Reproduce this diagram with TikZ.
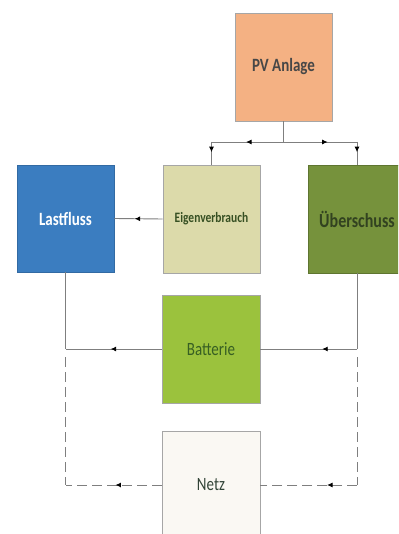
\documentclass[tikz,border=0pt]{standalone}
\usepackage{fontspec}
\usepackage{graphicx}
\setmainfont{Carlito}
\usetikzlibrary{arrows.meta,decorations.markings}
\definecolor{pvfill}{HTML}{F4B183}
\definecolor{eigfill}{HTML}{DCDAAA}
\definecolor{uebfill}{HTML}{76923C}
\definecolor{lastfill}{HTML}{3B7DC0}
\definecolor{battfill}{HTML}{9BC23D}
\definecolor{netzfill}{HTML}{FAF8F3}
\definecolor{linegray}{HTML}{7F7F7F}
\definecolor{bordgray}{HTML}{A6A6A6}
\newcommand{\tallText}[1]{\scalebox{1}[1.25]{#1}}
\begin{document}
\begin{tikzpicture}[x=1pt,y=-1pt,
  box/.style={draw=bordgray,line width=0.8pt,minimum width=97pt,minimum height=108pt,inner sep=0pt,font=\fontsize{15}{18}\selectfont},
  conn/.style={draw=linegray,line width=0.9pt},
  dconn/.style={conn,dash pattern=on 10pt off 5pt},
  midarr/.style={postaction={decorate,decoration={markings,mark=at position #1 with {\arrow[black]{Latex[length=5.5pt,width=5pt]}}}}},
  midarr/.default=0.5]
\useasboundingbox (0,0) rectangle (398,534);
\clip (0,0) rectangle (398,534);
\fill[white] (0,0) rectangle (398,534);
% boxes
\node[box,fill=pvfill,text=black!72,font=\bfseries\fontsize{15}{18}\selectfont] (pv) at (283.5,67) {\tallText{PV Anlage}};
\node[box,fill=eigfill,text={rgb,255:red,55;green,80;blue,35},font=\bfseries\fontsize{11.5}{14}\selectfont] (eig) at (211.5,219) {\tallText{Eigenverbrauch}};
\node[box,fill=uebfill,draw=uebfill!80!black,minimum width=98pt,text={rgb,255:red,50;green,66;blue,32},font=\bfseries\fontsize{16}{19}\selectfont] (ueb) at (357,219) {\tallText{Überschuss}};
\node[box,fill=lastfill,draw=lastfill!85!black,minimum height=107pt,text=white,font=\bfseries\fontsize{15}{18}\selectfont] (last) at (65.5,218.5) {\tallText{Lastfluss}};
\node[box,fill=battfill,minimum width=98pt,text={rgb,255:red,55;green,95;blue,35}] (batt) at (211,349) {\tallText{Batterie}};
\node[box,fill=netzfill,minimum width=98pt,text={rgb,255:red,50;green,68;blue,55}] (netz) at (211,485) {\tallText{Netz}};
% junction coordinates
\coordinate (j) at (283.5,142);
\coordinate (jl) at (211.5,142);
\coordinate (jr) at (357,142);
\coordinate (bl) at (65.5,349);
\coordinate (br) at (357,349);
\coordinate (nl) at (65.5,485);
\coordinate (nr) at (357,485);
% PV connectors
\draw[conn] (pv.south) -- (j);
\draw[conn,midarr=0.52] (j) -- (jl);
\draw[conn,midarr=0.6] (j) -- (jr);
\draw[conn,midarr=0.45] (jl) -- (eig.north);
\draw[conn,midarr=0.45] (jr) -- (ueb.north);
% Eigenverbrauch -> Lastfluss
\draw[conn,midarr=0.58] (eig.west) -- (last.east);
% Batterie connections
\draw[conn,midarr=0.53] (batt.west) -- (bl);
\draw[conn] (bl) -- (last.south);
\draw[conn] (ueb.south) -- (br);
\draw[conn,midarr=0.36] (br) -- (batt.east);
% Netz dashed connections
\draw[dconn] (bl) ++(0,8) -- (nl);
\draw[dconn] (br) ++(0,8) -- (nr);
\draw[dconn,midarr=0.48] (netz.west) -- (nl);
\draw[dconn,midarr=0.31] (nr) -- (netz.east);
\end{tikzpicture}
\end{document}
